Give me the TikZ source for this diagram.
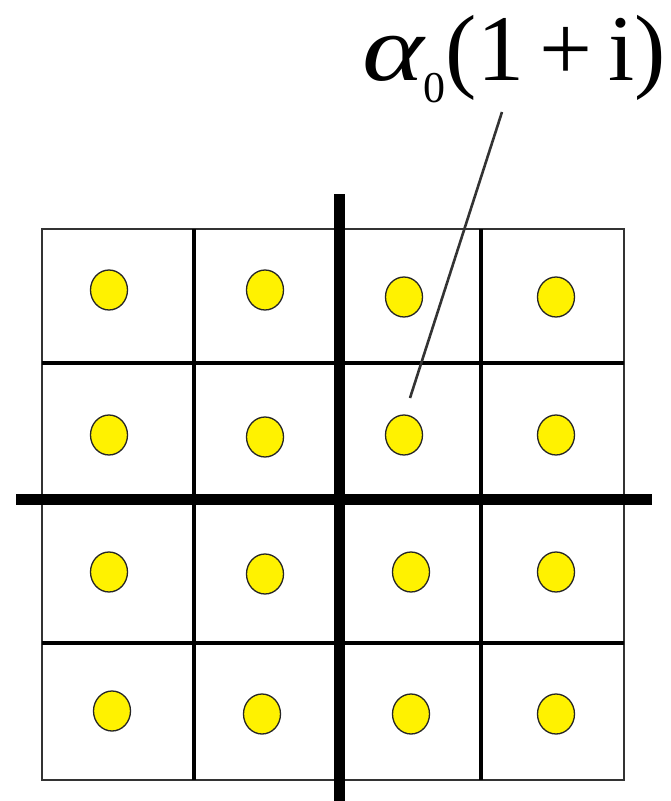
\documentclass[tikz,border=0pt]{standalone}
\usepackage{fontspec}
\setmainfont{Liberation Serif}
\usetikzlibrary{shapes.geometric}
\tikzset{
  dot/.style={ellipse,draw=black!85,line width=1.3pt,fill=yellow,minimum width=37pt,minimum height=40pt,inner sep=0pt},
  thinline/.style={line width=4.5pt,black},
  thickline/.style={line width=11pt,black},
  border/.style={line width=1.6pt,black!80},
  leader/.style={line width=2.6pt,black!80}
}
\begin{document}
\begin{tikzpicture}[x=1pt,y=-1pt]
\useasboundingbox (0,0) rectangle (670,801);
\fill[white] (0,0) rectangle (670,801);
% outer border
\draw[border] (42,229) rectangle (624,780);
% medium lines
\draw[thinline] (194,229) -- (194,780);
\draw[thinline] (481,229) -- (481,780);
\draw[thinline] (42,363) -- (624,363);
\draw[thinline] (42,643) -- (624,643);
% thick axes
\draw[thickline] (339,194) -- (339,801);
\draw[thickline] (16,499) -- (652,499);
% dots
\node[dot] (d11) at (109,290) {};
\node[dot] (d12) at (265,290) {};
\node[dot] (d13) at (404,297) {};
\node[dot] (d14) at (556,297) {};
\node[dot] (d21) at (109,435) {};
\node[dot] (d22) at (265,437) {};
\node[dot] (d23) at (404,435) {};
\node[dot] (d24) at (556,435) {};
\node[dot] (d31) at (109,572) {};
\node[dot] (d32) at (265,574) {};
\node[dot] (d33) at (411,572) {};
\node[dot] (d34) at (556,572) {};
\node[dot] (d41) at (112,711) {};
\node[dot] (d42) at (262,714) {};
\node[dot] (d43) at (411,714) {};
\node[dot] (d44) at (556,714) {};
% label
\node[anchor=base east,inner sep=0pt] (lbl) at (666,80)
  {\fontsize{94}{100}\selectfont\scalebox{1.25}[1]{\itshape α}\raisebox{-22pt}{\fontsize{44}{48}\selectfont 0}(1\,+\,i)};
\coordinate (lt) at (502,112);
\coordinate (lb) at (410,398);
\draw[leader] (lt) -- (lb);
\end{tikzpicture}
\end{document}
